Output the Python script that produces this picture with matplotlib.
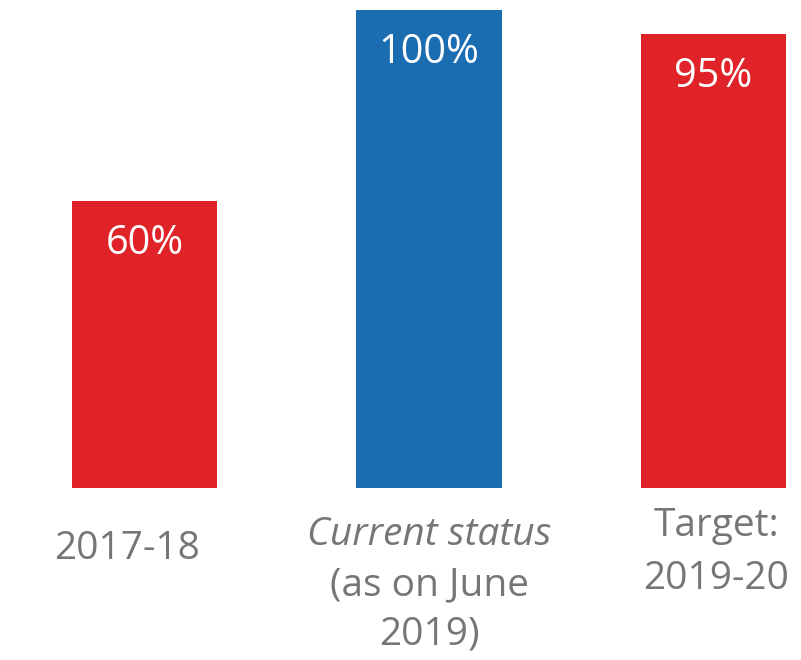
import matplotlib
matplotlib.use("Agg")
import matplotlib.pyplot as plt

categories = ["2017-18", "Current status", "Target:"]
values = [60, 100, 95]
value_labels = ["60%", "100%", "95%"]
colors = ["#E02328", "#1B6DB2", "#E02328"]

plt.rcParams['font.family'] = ['Open Sans', 'DejaVu Sans']

fig = plt.figure(figsize=(8.01, 6.6), dpi=100)
ax = fig.add_axes([0, 1 - 488/660, 1, 478/660])
x = list(range(len(categories)))
ax.bar(x, values, width=0.51, color=colors)
ax.set_xlim(-144.5/284.5, (801-144.5)/284.5)
ax.set_ylim(0, 100)
ax.axis('off')

for xi, v, lab in zip(x, values, value_labels):
    ax.annotate(lab, (xi, v), xytext=(0, -43), textcoords='offset pixels',
                ha='center', va='center', color='white', fontsize=28.5)

gray = '#767676'
fs = 28
def lbl(xi, txt, off, style='normal', dx=0):
    ax.annotate(txt, (xi, 0), xytext=(dx, off), textcoords='offset pixels',
                ha='center', va='center', color=gray, fontsize=fs, style=style,
                annotation_clip=False)

lbl(0, "2017-18", -61, dx=-17)
lbl(1, "Current status", -47, style='italic')
lbl(1, "(as on June", -97)
lbl(1, "2019)", -147)
lbl(2, "Target:", -38, dx=3)
lbl(2, "2019-20", -91, dx=3)

fig.savefig("out.png", dpi=100)
